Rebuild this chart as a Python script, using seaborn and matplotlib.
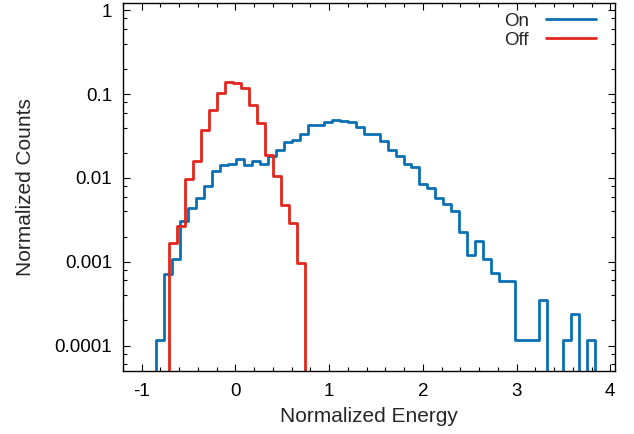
import numpy as np
import pandas as pd
import matplotlib
matplotlib.use("Agg")
import matplotlib.pyplot as plt
import seaborn as sns
from matplotlib.lines import Line2D
from matplotlib.ticker import MultipleLocator, LogLocator, FixedLocator, NullFormatter

# ===================== data =====================
BIN_WIDTH = 0.0853

on_start = -0.851
on_counts = [1.18e-4, 7.2e-4, 1.09e-3, 3.08e-3, 4.34e-3, 5.71e-3, 8.09e-3, 0.0120, 0.0143, 0.0147,
             0.0169, 0.0143, 0.0161, 0.0147, 0.0185, 0.0213, 0.0268, 0.0285, 0.0337, 0.0432,
             0.0423, 0.0465, 0.0495, 0.0482, 0.0465, 0.0405, 0.0334, 0.0334, 0.0275, 0.0216,
             0.0182, 0.0147, 0.0137, 8.48e-3, 7.53e-3, 5.71e-3, 4.84e-3, 3.99e-3, 2.30e-3, 1.21e-3,
             1.79e-3, 1.07e-3, 7.28e-4, 5.89e-4, 5.89e-4, 1.18e-4, 1.18e-4, 1.18e-4, 3.55e-4, 0,
             0, 1.18e-4, 2.40e-4, 0, 1.18e-4]

off_start = -0.709
off_counts = [1.67e-3, 2.64e-3, 9.73e-3, 0.0158, 0.0369, 0.064, 0.104, 0.140, 0.134, 0.119,
              0.0734, 0.0452, 0.019, 0.0107, 4.79e-3, 2.89e-3, 9.6e-4]

series_names = ["On", "Off"]
series_colors = ["#0a70b4", "#e3261c"]

x_ticks = [-1, 0, 1, 2, 3, 4]
y_ticks = [1e-4, 1e-3, 1e-2, 1e-1, 1]
y_tick_labels = ["0.0001", "0.001", "0.01", "0.1", "1"]

FS = 13.5        # ticks / legend
FS_LABEL = 15    # axis titles


def hist_frame(start, counts):
    # one empty bin on each side so the outline drops to the axis like gnuplot
    w = [0.0] + list(counts) + [0.0]
    edges = start - BIN_WIDTH + np.arange(len(w) + 1) * BIN_WIDTH
    centers = edges[:-1] + BIN_WIDTH / 2
    return pd.DataFrame({"x": centers, "w": w}), list(edges)


# ===================== plot =====================
sns.set_style("ticks")
plt.rcParams["font.family"] = ["Liberation Sans", "DejaVu Sans"]
plt.rcParams["font.size"] = FS
plt.rcParams["axes.unicode_minus"] = False

fig = plt.figure(figsize=(6.34, 4.34), dpi=100)
ax = fig.add_axes([0.194, 0.1463, 0.776, 0.846])

for name, start, counts, color in zip(series_names, [on_start, off_start],
                                      [on_counts, off_counts], series_colors):
    df, edges = hist_frame(start, counts)
    sns.histplot(data=df, x="x", weights="w", bins=edges, element="step", fill=False,
                 color=color, linewidth=2, ax=ax)

ax.set_yscale("log")
ax.set_xlim(-1.2, 4.05)
ax.set_ylim(5.06e-5, 1.21)

ax.xaxis.set_major_locator(FixedLocator(x_ticks))
ax.xaxis.set_minor_locator(MultipleLocator(0.2))
ax.yaxis.set_major_locator(FixedLocator(y_ticks))
ax.set_yticklabels(y_tick_labels)
ax.yaxis.set_minor_locator(LogLocator(base=10, subs=[2, 4, 6, 8]))
ax.yaxis.set_minor_formatter(NullFormatter())

ax.tick_params(which="both", direction="in", top=True, right=True, colors="black",
               labelsize=FS, width=0.8)
ax.tick_params(which="major", length=5)
ax.tick_params(axis="y", which="major", pad=8)
ax.tick_params(axis="x", which="major", pad=9)
ax.tick_params(which="minor", length=3)
for sp in ax.spines.values():
    sp.set_visible(True)
    sp.set_color("black")
    sp.set_linewidth(1)

ax.set_xlabel("Normalized Energy", fontsize=FS_LABEL, labelpad=5)
ax.set_ylabel("Normalized Counts", fontsize=FS_LABEL, labelpad=14)

handles = [Line2D([], [], color=c, linewidth=2) for c in series_colors]
ax.legend(handles, series_names, loc="upper right", bbox_to_anchor=(1.0, 1.025),
          frameon=False, markerfirst=False, handlelength=2.7, handletextpad=0.9,
          labelspacing=0.1, borderaxespad=0.6, fontsize=FS)

fig.savefig("out.png", dpi=100)
